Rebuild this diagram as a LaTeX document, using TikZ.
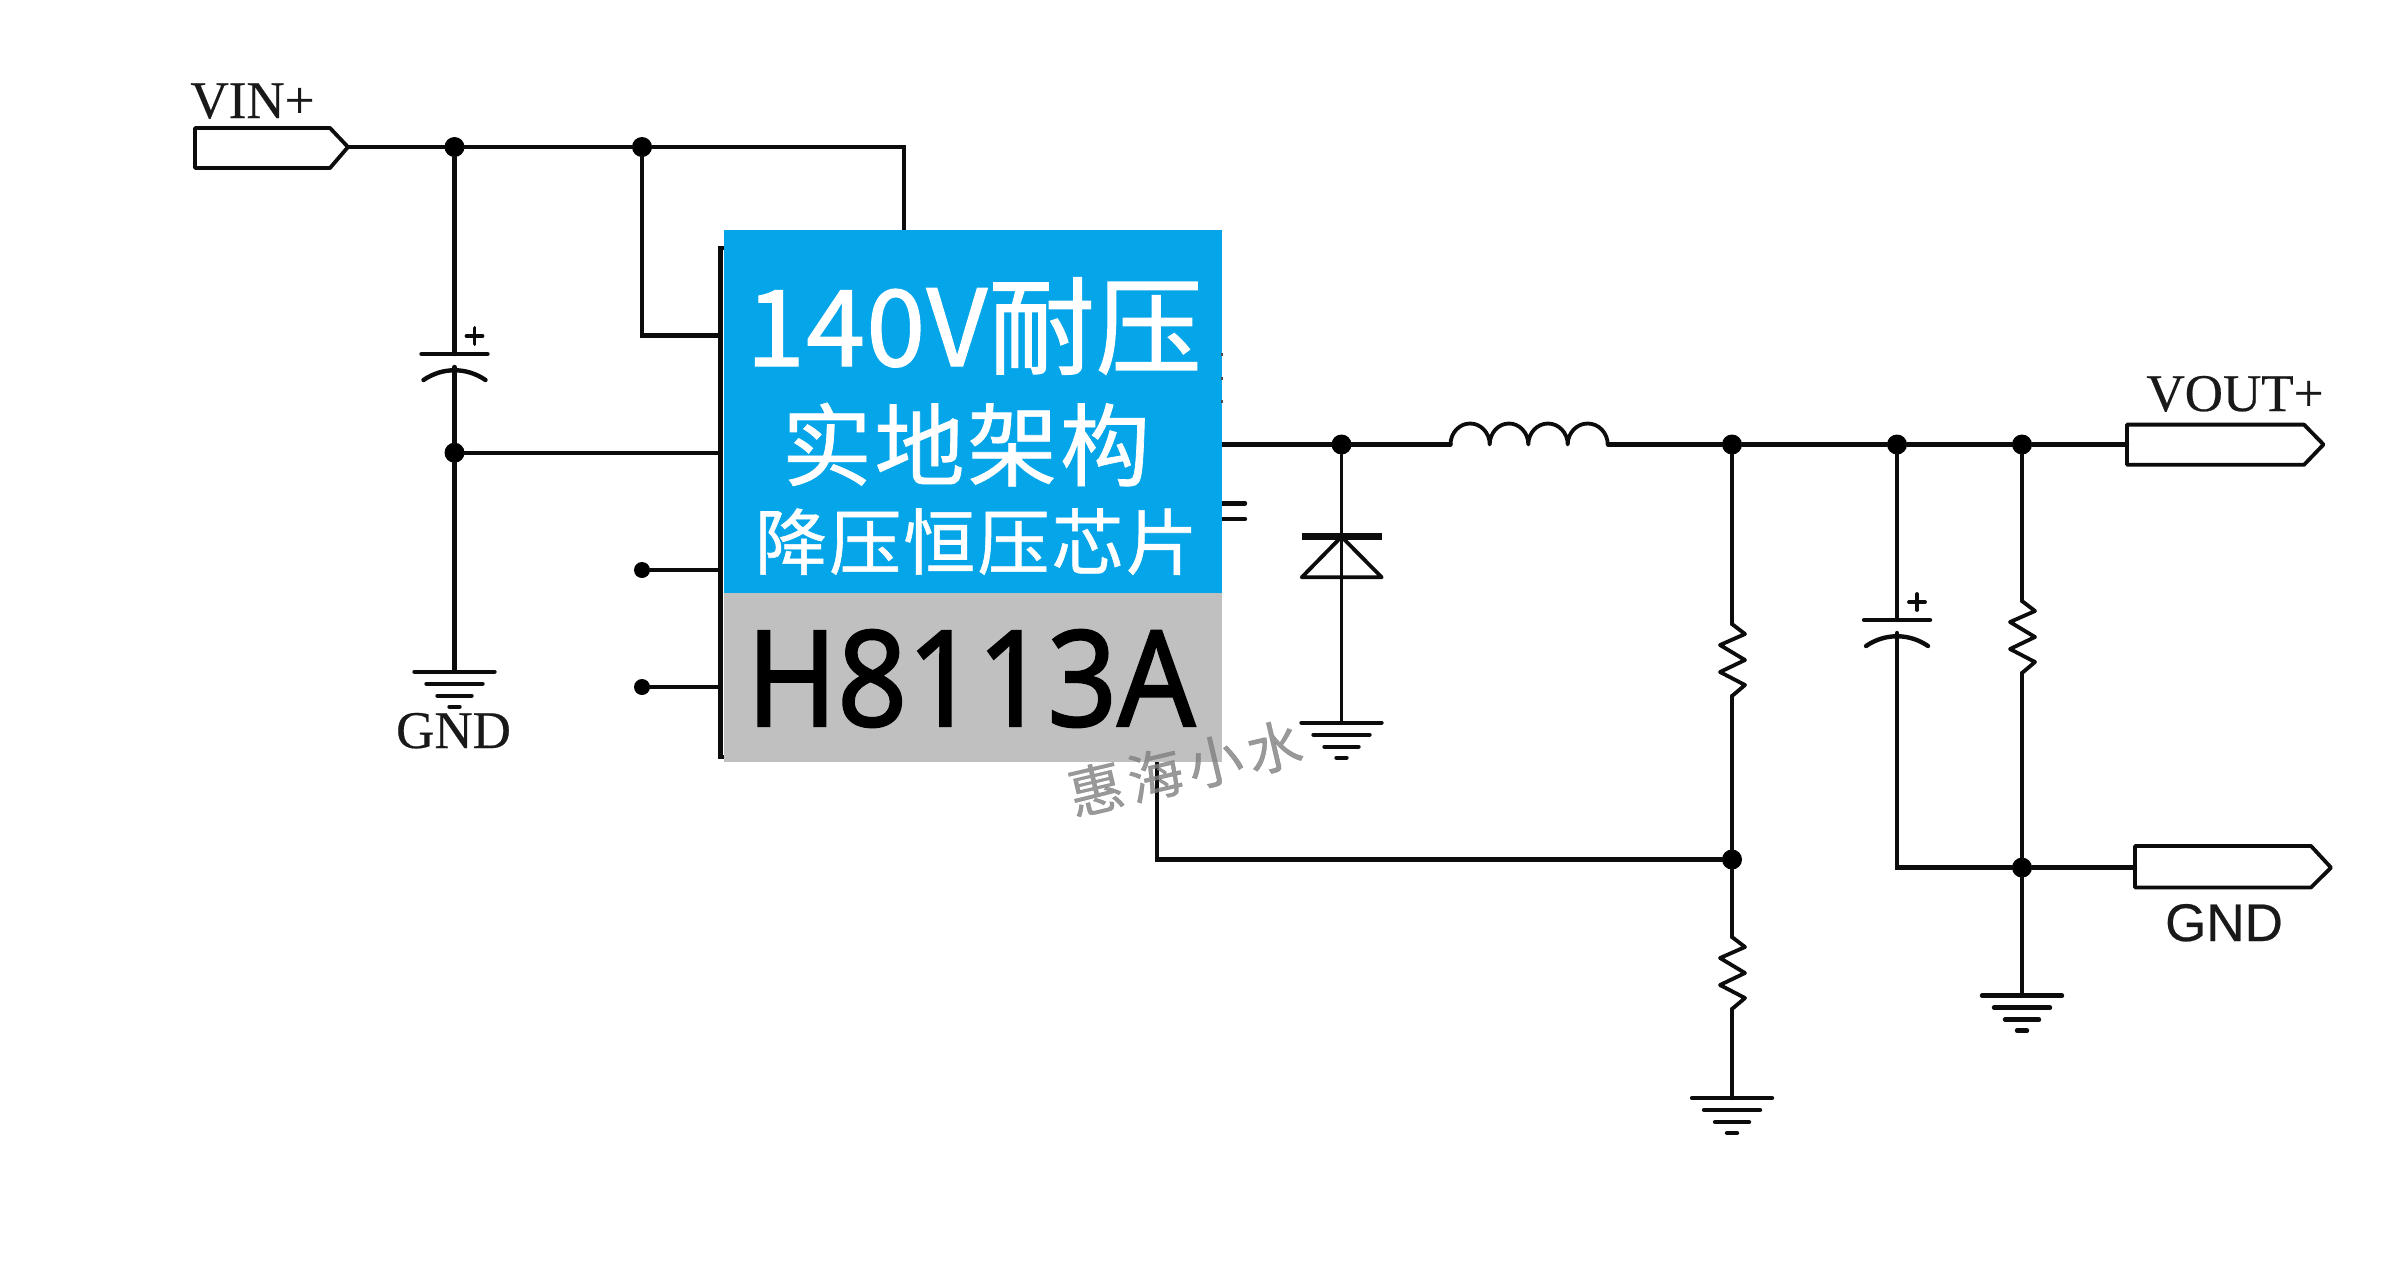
\documentclass[tikz,border=0pt]{standalone}
\usepackage{fontspec}
\usepackage{graphicx}
\setmainfont[FakeBold=0.4]{Liberation Serif}
\newfontfamily\cjkfont[LetterSpace=1.2,FakeBold=1.2]{Noto Sans CJK SC}
\newfontfamily\cjkspaced[LetterSpace=3,FakeBold=0.8]{Noto Sans CJK SC}
\newfontfamily\cjkwide[LetterSpace=11,FakeBold=0.6]{Noto Sans CJK SC}
\newfontfamily\sansfont[FakeBold=0.4]{Liberation Sans}
\newfontfamily\partfont[FakeBold=1.6]{Noto Sans}
\definecolor{chipblue}{HTML}{05A5E9}
\definecolor{chipgray}{HTML}{C0C0C0}
\definecolor{wiredark}{HTML}{0C0C0C}
\tikzset{
  wire/.style={draw=wiredark,line width=4.4pt,line cap=round,line join=miter},
  thinwire/.style={draw=wiredark,line width=3.8pt,line cap=round,line join=round},
  junction/.style={circle,fill=black,draw=none,minimum size=20pt,inner sep=0pt},
  smalldot/.style={circle,fill=black,draw=none,minimum size=16pt,inner sep=0pt},
  label/.style={inner sep=0pt,anchor=base,text=black!90},
  pics/gnd/.style={code={
    \draw[wire] (-40,0) -- (40,0);
    \draw[wire] (-28,12) -- (28,12);
    \draw[wire] (-17,24) -- (17,24);
    \draw[wire] (-5,35) -- (5,35);
  }},
  pics/res/.style={code={
    \draw[thinwire] (0,0) -- (13,10) -- (-12,21) -- (13,36) -- (-12,48) -- (13,61) -- (0,72);
  }},
  pics/pcap/.style={code={
    \draw[wire] (-33,0) -- (33,0);
    \draw[wire] (-31,26) .. controls (-12,13) and (12,13) .. (31,26);
    \draw[thinwire] (20,-26) -- (20,-10) (12,-18) -- (28,-18);
  }}
}
\begin{document}
\begin{tikzpicture}[x=1pt,y=-1pt]
\useasboundingbox (0,0) rectangle (2387,1278);
\fill[white] (0,0) rectangle (2387,1278);

% junctions
\node[junction] (n1) at (454.5,147) {};
\node[junction] (n2) at (642,147) {};
\node[junction] (n3) at (454.5,452.7) {};
\node[smalldot] (p3) at (642,570) {};
\node[smalldot] (p4) at (642,687) {};
\node[junction] (sw) at (1341.5,444.5) {};
\node[junction] (k1) at (1732,444.5) {};
\node[junction] (k2) at (1897,444.5) {};
\node[junction] (k3) at (2022,444.5) {};
\node[junction] (fb) at (1732,859.5) {};
\node[junction] (g1) at (2022,867.6) {};

% anchors
\coordinate (vinTip) at (348,147);
\coordinate (topEnd) at (904,147);
\coordinate (chipTop) at (904,231);
\coordinate (pin1) at (720.6,335.6);
\coordinate (pin1L) at (642,335.6);
\coordinate (pin2) at (720.6,452.7);
\coordinate (pin3) at (720.6,570);
\coordinate (pin4) at (720.6,687);
\coordinate (c1a) at (454.5,354);
\coordinate (c1b) at (454.5,367);
\coordinate (gnd1) at (454.5,671.7);
\coordinate (chipOut) at (1222,444.5);
\coordinate (indL) at (1450.5,444.5);
\coordinate (indR) at (1608,444.5);
\coordinate (dTop) at (1341.5,536.7);
\coordinate (gnd2) at (1341.5,722.7);
\coordinate (r1a) at (1732,624);
\coordinate (r1b) at (1732,696);
\coordinate (r2a) at (1732,937);
\coordinate (r2b) at (1732,1009);
\coordinate (gnd3) at (1732,1098);
\coordinate (c2a) at (1897,620);
\coordinate (c2b) at (1897,633);
\coordinate (c2c) at (1897,867.6);
\coordinate (r3a) at (2022,601);
\coordinate (r3b) at (2022,673);
\coordinate (gnd4) at (2022,995.6);
\coordinate (voutPort) at (2127,444.5);
\coordinate (gndPort) at (2135,867.6);
\coordinate (fbChip) at (1157,762);
\coordinate (fbCorner) at (1157,859.5);

% wires
\draw[wire] (vinTip) -- (n1) -- (n2) -- (topEnd) -- (chipTop);
\draw[wire] (n2) -- (pin1L) -- (pin1);
\draw[wire] (n1) -- (c1a);
\draw[wire] (c1b) -- (n3) -- (gnd1);
\draw[wire] (n3) -- (pin2);
\draw[wire] (p3) -- (pin3);
\draw[wire] (p4) -- (pin4);
\draw[wire] (724,248) -- (720.6,248) -- (720.6,757) -- (724,757);
\draw[wire] (chipOut) -- (sw) -- (indL);
\draw[wire] (indR) -- (k1) -- (k2) -- (k3) -- (voutPort);
\draw[thinwire] (sw) -- (gnd2);
\draw[wire] (k1) -- (r1a);
\draw[wire] (r1b) -- (fb) -- (r2a);
\draw[wire] (r2b) -- (gnd3);
\draw[wire] (fbChip) -- (fbCorner) -- (fb);
\draw[wire] (k2) -- (c2a);
\draw[wire] (c2b) -- (c2c) -- (g1) -- (gndPort);
\draw[wire] (k3) -- (r3a);
\draw[wire] (r3b) -- (g1) -- (gnd4);
\draw[wire] (1222,503.3) -- (1245,503.3);
\draw[wire] (1222,519) -- (1245,519);

% inductor
\draw[thinwire] (indL) arc[start angle=180,end angle=360,x radius=19.6,y radius=21]
  arc[start angle=180,end angle=360,x radius=19.3,y radius=21]
  arc[start angle=180,end angle=360,x radius=19.7,y radius=21]
  arc[start angle=180,end angle=360,x radius=20,y radius=21];

% parts
\pic at (gnd1) {gnd};
\pic at (gnd2) {gnd};
\pic at (gnd3) {gnd};
\pic at (gnd4) {gnd};
\pic at (r1a) {res};
\pic at (r2a) {res};
\pic at (r3a) {res};
\pic at (c1a) {pcap};
\pic at (c2a) {pcap};

% diode
\draw[draw=wiredark,line width=7pt] (1301.7,536.7) -- (1382.3,536.7);
\draw[thinwire] (dTop) -- (1301.7,577.3) -- (1381.7,577.3) -- cycle;

% ports
\draw[thinwire] (195,128) -- (330,128) -- (vinTip) -- (330,168) -- (195,168) -- cycle;
\draw[thinwire] (voutPort) |- (2304,424.6) -- (2323.5,444.5) -- (2304,464.8) -| cycle;
\draw[thinwire] (gndPort) |- (2311,846) -- (2331,867.6) -- (2311,887.4) -| cycle;

% port labels
\node[label,font=\fontsize{53}{56}\selectfont] (vinL) at (252.5,118) {VIN+};
\node[label,font=\fontsize{53}{56}\selectfont] (gndL) at (453.5,748) {GND};
\node[label,font=\fontsize{53}{56}\selectfont] (voutL) at (2235,411) {VOUT+};
\node[label,font=\sansfont\fontsize{53}{56}\selectfont] (gndR) at (2224,941) {GND};

% chip block
\fill[chipblue] (724,230.4) rectangle (1221.6,593);
\fill[chipgray] (724,593) rectangle (1221.6,761.6);
\foreach \yy in {354,378.6,401} \fill[black!70] (1221,\yy-1.5) rectangle (1223,\yy+1.5);

\node[inner sep=0pt,anchor=base,text=white,font=\cjkfont\fontsize{106}{110}\selectfont] (t1) at (974,366) {140V耐压};
\node[inner sep=0pt,anchor=base,text=white,font=\cjkspaced\fontsize{90}{94}\selectfont] (t2) at (966,479) {实地架构};
\node[inner sep=0pt,anchor=base,text=white,font=\cjkspaced\fontsize{72}{76}\selectfont] (t3) at (976.5,569) {降压恒压芯片};
\node[inner sep=0pt,anchor=base,text=black,font=\partfont\fontsize{133}{138}\selectfont] (t4) at (971,726) {\scalebox{.92}[1]{H8113A}};

% watermark
\node[inner sep=0pt,rotate=13.3,text=black!50,opacity=.8,font=\cjkwide\fontsize{55}{58}\selectfont] (wm) at (1185,768) {惠海小水};
\end{tikzpicture}
\end{document}
